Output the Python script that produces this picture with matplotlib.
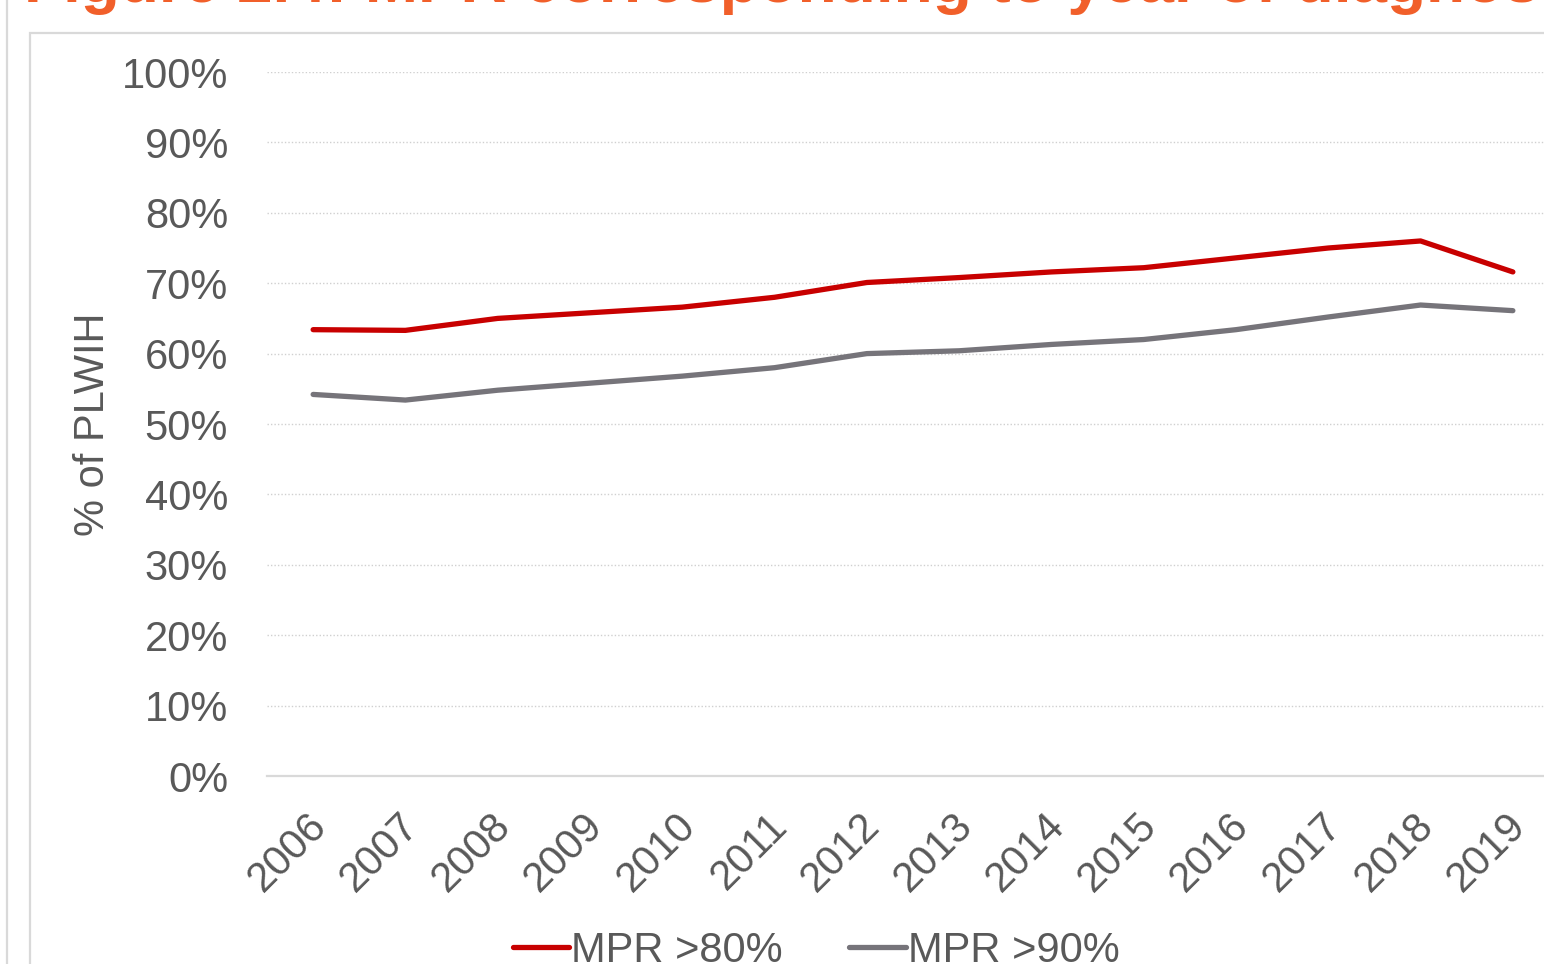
#!/usr/bin/env python3
"""Medication possession ratio (MPR) by year of diagnosis."""

import matplotlib

matplotlib.use("Agg")
import matplotlib.pyplot as plt
from matplotlib.lines import Line2D
from matplotlib.patches import Rectangle
from matplotlib.ticker import PercentFormatter
from matplotlib.transforms import ScaledTranslation

years = ["2006", "2007", "2008", "2009", "2010", "2011", "2012",
         "2013", "2014", "2015", "2016", "2017", "2018", "2019"]
mpr_80 = [63.4, 63.3, 65.0, 65.8, 66.6, 68.0, 70.1,
          70.8, 71.6, 72.2, 73.6, 75.0, 76.0, 71.6]
mpr_90 = [54.2, 53.4, 54.8, 55.8, 56.8, 58.0, 60.0,
          60.4, 61.3, 62.0, 63.4, 65.2, 66.9, 66.1]
series_labels = ["MPR >80%", "MPR >90%"]
title = "Figure 2.4: MPR corresponding to year of diagnosis"

RED = "#C80000"
GREY = "#76747A"
TEXT = "#595959"
GRID = "#D0D0D0"
W, H = 1544, 964

plt.rcParams["font.family"] = ["Liberation Sans", "DejaVu Sans"]

fig = plt.figure(figsize=(W / 100, H / 100), dpi=100)

# page rule and chart frame
fig.add_artist(Line2D([6.5 / W, 6.5 / W], [0, 1], color="#D9D9D9", lw=1.6,
                      transform=fig.transFigure))
fig.add_artist(Rectangle((30 / W, -0.1), 1.2, 1 - 33 / H + 0.1, fill=False,
                         edgecolor="#D9D9D9", lw=1.6, transform=fig.transFigure))

# title runs off the top of the page
fig.text(24 / W, 1 - 2 / H, title, color="#F15F2A", fontsize=46,
         fontweight="bold", ha="left", va="baseline")

x = list(range(len(years)))
left, right = 267 / W, 1559 / W
bottom, top = 1 - 776 / H, 1 - 72 / H
ax = fig.add_axes([left, bottom, right - left, top - bottom])
ax.set_xlim(-0.5, len(years) - 0.5)
ax.set_ylim(0, 100)

ax.plot(x, mpr_80, color=RED, lw=3.8, solid_capstyle="round",
        solid_joinstyle="round", label=series_labels[0], clip_on=False)
ax.plot(x, mpr_90, color=GREY, lw=3.8, solid_capstyle="round",
        solid_joinstyle="round", label=series_labels[1], clip_on=False)

ax.set_yticks(range(0, 101, 10))
ax.yaxis.set_major_formatter(PercentFormatter(decimals=0))
ax.grid(axis="y", color=GRID, lw=1.0, ls=(0, (1, 1.5)))
ax.set_axisbelow(True)
for side in ("left", "right", "top"):
    ax.spines[side].set_visible(False)
ax.spines["bottom"].set_color("#D9D9D9")
ax.spines["bottom"].set_linewidth(1.6)

ax.tick_params(axis="y", length=0, pad=28, labelsize=30, labelcolor=TEXT)
ax.tick_params(axis="x", length=0, pad=23, labelsize=30, labelcolor=TEXT)
ax.set_xticks(x, years, rotation=45, ha="right", va="top",
              rotation_mode="anchor")
shift = ScaledTranslation(-7 / 100, 2 / 100, fig.dpi_scale_trans)
for label in ax.get_xticklabels():
    label.set_transform(label.get_transform() + shift)
ax.set_ylabel("% of PLWIH", fontsize=30, color=TEXT, labelpad=6)

fig.legend(loc="center", bbox_to_anchor=(816 / W, 1 - 951 / H), ncol=2,
           frameon=False, fontsize=30, labelcolor=TEXT, handlelength=1.35,
           handletextpad=0.05, columnspacing=1.6)

fig.savefig("out.png", dpi=100)
